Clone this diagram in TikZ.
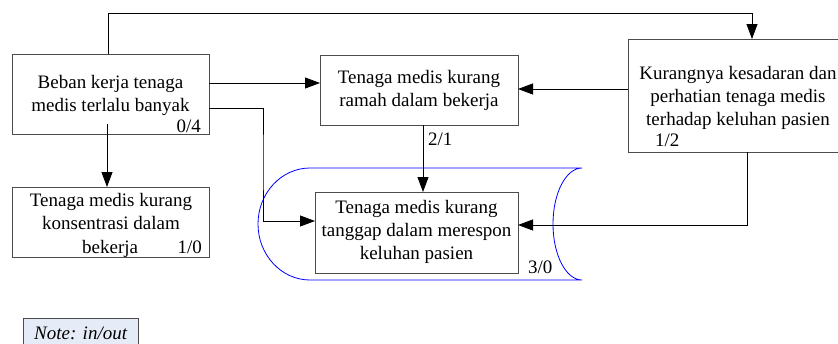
\documentclass[tikz,border=0pt]{standalone}
\usepackage{fontspec}
\setmainfont{Liberation Serif}
\usetikzlibrary{arrows.meta}
\definecolor{notefill}{HTML}{E6ECF7}
\tikzset{
  x=1pt,y=-1pt,
  conn/.style={draw=black,line width=0.8pt,-{Triangle[length=15pt,width=11pt]}},
  plainline/.style={draw=black,line width=0.8pt},
  boxstyle/.style={draw=black!70,line width=0.8pt,fill=white},
  txt/.style={font=\fontsize{19}{23}\selectfont,inner sep=0pt,align=center},
  lbl/.style={font=\fontsize{19}{23}\selectfont,inner sep=0pt}
}
\begin{document}
\begin{tikzpicture}
\useasboundingbox (0,0) rectangle (838,343);
\clip (0,0) rectangle (838,343);
% blue tube
\draw[blue,line width=0.8pt] (582,168) -- (310,168)
  .. controls (281.3,168) and (258,193.1) .. (258,224)
  .. controls (258,254.9) and (281.3,280) .. (310,280) -- (582,280)
  .. controls (566,280) and (553,254.9) .. (553,224)
  .. controls (553,193.1) and (566,168) .. (582,168);
% boxes
\path[boxstyle] (12,54) rectangle (209,134) coordinate (Abr);
\coordinate (A) at (110.5,94);
\path[boxstyle] (320,55) rectangle (518,125);
\path[boxstyle] (628,39) rectangle (850,152);
\path[boxstyle] (315,192) rectangle (518,273);
\path[boxstyle] (12,187) rectangle (209,257);
\path[draw=black!70,line width=0.8pt,fill=notefill] (23,318) rectangle (138,350);
% named anchors
\coordinate (Aright1) at (209,83);
\coordinate (Aright2) at (209,108);
\coordinate (Atop) at (108,54);
\coordinate (Abot) at (107,124);
\coordinate (Bleft) at (320,83);
\coordinate (Bright) at (518,89);
\coordinate (Bbot) at (423,125);
\coordinate (Dtop) at (752,39);
\coordinate (Dleft) at (628,89);
\coordinate (Dbot) at (747,152);
\coordinate (Ctop) at (423,192);
\coordinate (Cleft) at (315,221);
\coordinate (Cright) at (518,225);
\coordinate (Etop) at (107,187);
% texts
\node[txt] (ta) at (110.5,95) {Beban kerja tenaga\\medis terlalu banyak};
\node[lbl,anchor=base east] (la) at (201,132) {0/4};
\node[txt] (tb) at (419,90.5) {Tenaga medis kurang\\ramah dalam bekerja};
\node[lbl,anchor=base west] (lb) at (428,145) {2/1};
\node[txt] (td) at (738,98) {Kurangnya kesadaran dan\\perhatian tenaga medis\\terhadap keluhan pasien};
\node[lbl,anchor=base west] (ld) at (655,146) {1/2};
\node[txt] (tc) at (416.5,232) {Tenaga medis kurang\\tanggap dalam merespon\\keluhan pasien};
\node[lbl,anchor=base west] (lc) at (528,273) {3/0};
\node[txt] (te) at (111,211) {Tenaga medis kurang\\konsentrasi dalam};
\node[lbl,anchor=base west] (te3) at (82,253) {bekerja};
\node[lbl,anchor=base east] (le) at (202,253) {1/0};
\node[lbl,anchor=base west,font=\fontsize{19}{23}\selectfont\itshape] (note) at (34,339) {Note: in/out};
% connectors
\draw[conn] (Atop) |- (108,13) -| (Dtop);
\draw[conn] (Aright1) -- (Bleft);
\draw[conn] (Dleft) -- (Bright);
\draw[conn] (Aright2) -| (263,160) |- (Cleft);
\draw[conn] (Bbot) -- (Ctop);
\draw[conn] (Dbot) |- (Cright);
\draw[conn] (Abot) -- (Etop);
\end{tikzpicture}
\end{document}
